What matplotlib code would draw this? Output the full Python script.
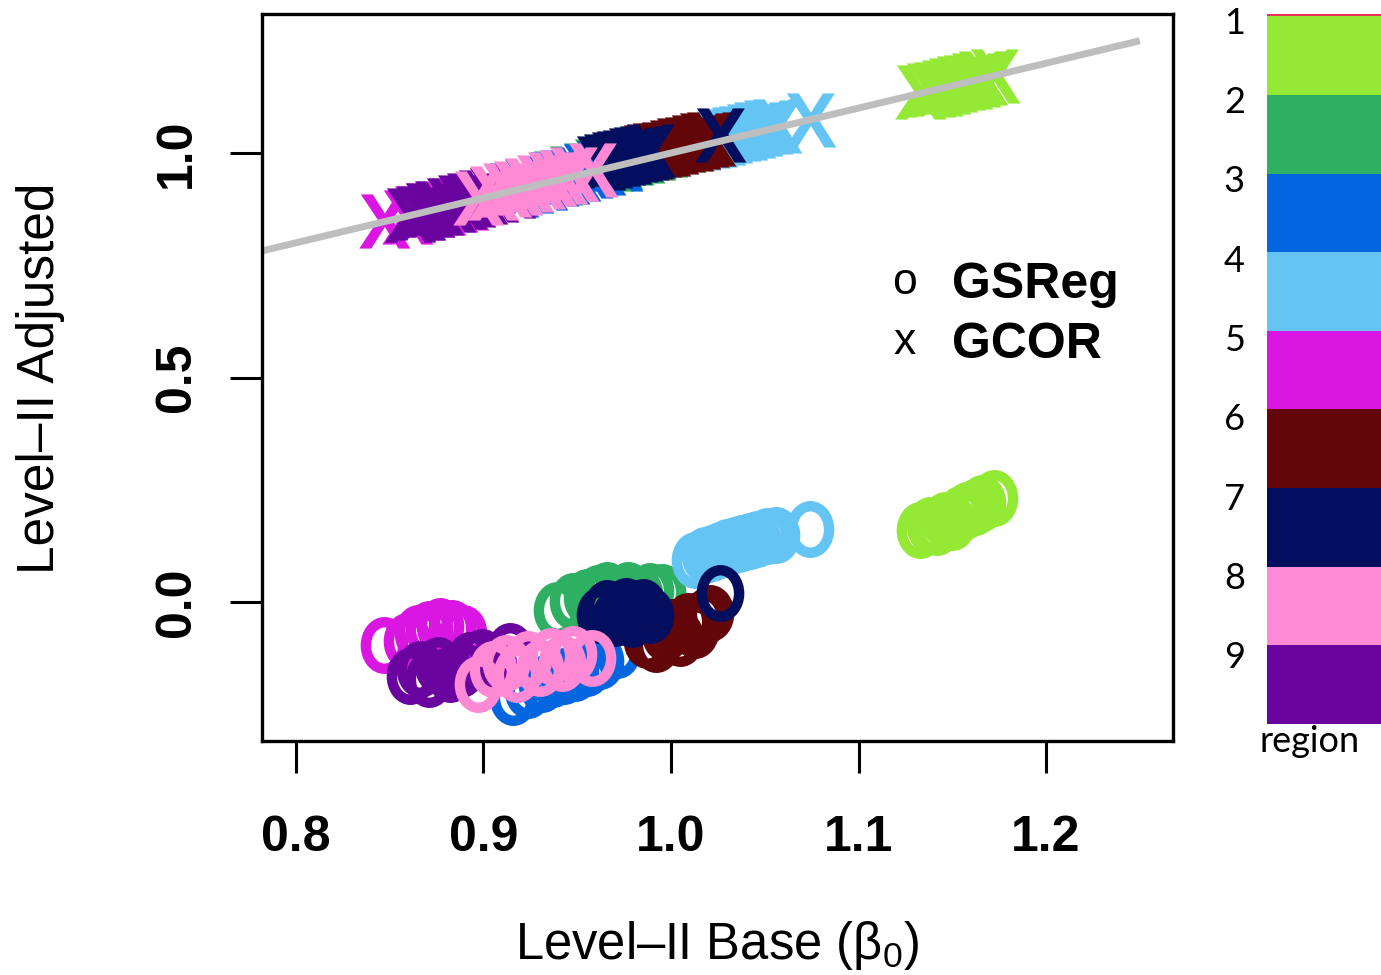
import numpy as np
import matplotlib
matplotlib.use("Agg")
import matplotlib.pyplot as plt
from matplotlib.path import Path
from matplotlib.textpath import TextPath
from matplotlib.font_manager import FontProperties

plt.rcParams['font.family'] = ['Liberation Sans', 'DejaVu Sans']
plt.rcParams['mathtext.fontset'] = 'custom'
plt.rcParams['mathtext.rm'] = 'Liberation Sans'
plt.rcParams['mathtext.it'] = 'Liberation Sans:italic'

# ---------------- data ----------------
regions = [1, 2, 3, 4, 5, 6, 7, 8, 9]
region_colors = ['#94E935', '#2EAF62', '#0366DF', '#64C5F5', '#D916E2',
                 '#620609', '#030E5E', '#FE8AD5', '#6A049F']
top_sliver_color = '#E8325A'

base = [
    [1.133, 1.138, 1.142, 1.146, 1.150, 1.154, 1.158, 1.162, 1.166, 1.172],
    [0.939, 0.948, 0.955, 0.961, 0.966, 0.971, 0.977, 0.983, 0.989, 0.995],
    [0.916, 0.924, 0.931, 0.937, 0.943, 0.949, 0.955, 0.962, 0.971],
    [1.013, 1.018, 1.022, 1.026, 1.030, 1.034, 1.038, 1.042, 1.046, 1.051, 1.056, 1.074],
    [0.847, 0.859, 0.865, 0.871, 0.877, 0.883, 0.889],
    [0.987, 0.992, 0.997, 1.001, 1.005, 1.009, 1.013, 1.017, 1.021],
    [0.962, 0.966, 0.970, 0.973, 0.976, 0.979, 0.982, 0.985, 0.989, 1.026],
    [0.897, 0.905, 0.912, 0.918, 0.924, 0.930, 0.936, 0.942, 0.948, 0.958],
    [0.861, 0.866, 0.871, 0.876, 0.882, 0.888, 0.893, 0.899, 0.905, 0.914],
]
gsreg = [
    [0.160, 0.172, 0.168, 0.182, 0.178, 0.195, 0.205, 0.212, 0.220, 0.232],
    [-0.018, 0.002, 0.012, 0.020, 0.027, 0.015, 0.026, 0.018, 0.024, 0.022],
    [-0.212, -0.196, -0.182, -0.172, -0.165, -0.158, -0.148, -0.132, -0.107],
    [0.094, 0.104, 0.110, 0.116, 0.122, 0.126, 0.132, 0.136, 0.140, 0.146, 0.150, 0.163],
    [-0.096, -0.086, -0.070, -0.060, -0.053, -0.058, -0.068],
    [-0.085, -0.094, -0.070, -0.056, -0.080, -0.042, -0.062, -0.036, -0.025],
    [-0.030, -0.014, -0.036, -0.020, -0.008, -0.038, -0.024, -0.012, -0.030, 0.020],
    [-0.183, -0.150, -0.136, -0.160, -0.128, -0.146, -0.120, -0.136, -0.116, -0.125],
    [-0.165, -0.150, -0.171, -0.140, -0.160, -0.150, -0.130, -0.122, -0.140, -0.109],
]
gcor = [
    [1.135, 1.140, 1.143, 1.148, 1.151, 1.156, 1.159, 1.163, 1.168, 1.172],
    [0.945, 0.956, 0.962, 0.970, 0.975, 0.981, 0.988, 0.994, 1.000, 1.006],
    [0.918, 0.927, 0.934, 0.941, 0.947, 0.953, 0.960, 0.967, 0.976],
    [1.022, 1.026, 1.030, 1.034, 1.038, 1.042, 1.045, 1.049, 1.053, 1.057, 1.061, 1.073],
    [0.848, 0.858, 0.866, 0.872, 0.878, 0.884, 0.889],
    [1.002, 1.006, 1.010, 1.014, 1.018, 1.021, 1.025, 1.028, 1.032],
    [0.978, 0.982, 0.986, 0.989, 0.992, 0.995, 0.998, 1.001, 1.005, 1.040],
    [0.900, 0.910, 0.917, 0.923, 0.929, 0.935, 0.941, 0.947, 0.953, 0.962],
    [0.862, 0.867, 0.873, 0.878, 0.884, 0.890, 0.895, 0.901, 0.907, 0.915],
]
identity_range = [0.7819, 1.25]
x_ticks = [0.8, 0.9, 1.0, 1.1, 1.2]
y_ticks = [0.0, 0.5, 1.0]

# ---------------- markers ----------------
circ = Path.unit_circle()
ellipse_marker = Path(circ.vertices * np.array([0.8, 1.0]), circ.codes)

tp = TextPath((0, 0), 'X', size=10, prop=FontProperties(family='Liberation Sans', weight='bold'))
v = tp.vertices
ctr = (v.min(axis=0) + v.max(axis=0)) / 2
x_marker = Path(v - ctr, tp.codes)

# ---------------- figure ----------------
fig = plt.figure(figsize=(13.81, 9.75), dpi=100)
W, H = 1381, 975
ax = fig.add_axes([262 / W, 1 - 741 / H, (1173 - 262) / W, (741 - 14) / H])

order = [0, 1, 2, 3, 4, 8, 5, 6, 7]
for i in order:
    ax.plot(base[i], gsreg[i], linestyle='none', marker=ellipse_marker,
            markersize=33.5, markerfacecolor='none', markeredgecolor=region_colors[i],
            markeredgewidth=7.5)
for i in order:
    ax.plot(base[i], gcor[i], linestyle='none', marker=x_marker,
            markersize=39, markerfacecolor=region_colors[i], markeredgewidth=0,
            color=region_colors[i])

ax.plot(identity_range, identity_range, color='#BEBEBE', linewidth=5, solid_capstyle='butt')

ax.set_xlim(0.7819, 1.2677)
ax.set_ylim(-0.3096, 1.3096)
ax.set_xticks(x_ticks)
ax.set_xticklabels([f'{t:.1f}' for t in x_ticks], fontweight='bold', fontsize=36)
ax.set_yticks(y_ticks)
ax.set_yticklabels([f'{t:.1f}' for t in y_ticks], fontweight='bold', fontsize=36,
                   rotation=90, va='center')
ax.tick_params(axis='x', direction='out', length=23, width=2.2, pad=30)
ax.tick_params(axis='y', direction='out', length=23, width=2.2, pad=22)
for s in ax.spines.values():
    s.set_linewidth(2.4)

fig.text(41 / W, 1 - 378 / H, 'Level–II Adjusted', rotation=90, fontsize=37,
         ha='center', va='center')
fig.text(717 / W, 1 - 945 / H, 'Level–II Base (β$_0$)', fontsize=36.5,
         ha='center', va='center')

# legend
fig.text(905 / W, 1 - 283 / H, 'o', fontsize=32, ha='center', va='center')
fig.text(905 / W, 1 - 343 / H, 'x', fontsize=32, ha='center', va='center')
fig.text(952 / W, 1 - 285 / H, 'GSReg', fontsize=36, fontweight='bold', ha='left', va='center')
fig.text(952 / W, 1 - 345 / H, 'GCOR', fontsize=36, fontweight='bold', ha='left', va='center')

# region colour key
cax = fig.add_axes([1267 / W, 1 - 724 / H, (W - 1267) / W, (724 - 14) / H])
n = len(regions)
bottoms = [n - k for k in range(1, n + 1)]
cax.bar([0] * n, [1] * n, bottom=bottoms, width=1.0, color=region_colors, linewidth=0)
cax.bar([0], [0.03], bottom=[n], width=1.0, color=top_sliver_color, linewidth=0)
cax.set_xlim(-0.5, 0.5)
cax.set_ylim(0, n + 0.03)
cax.set_xticks([])
cax.set_yticks([n - k + 1 - 0.05 - 0.009 * (k - 1) for k in range(1, n + 1)])
cax.set_yticklabels([str(r) for r in regions], fontsize=26, family=['Lato', 'DejaVu Sans'])
cax.tick_params(axis='y', length=0, pad=16)
for s in cax.spines.values():
    s.set_visible(False)
fig.text(1310 / W, 1 - 741 / H, 'region', fontsize=26, family=['Lato', 'DejaVu Sans'],
         ha='center', va='center')

fig.savefig('out.png', dpi=100)
